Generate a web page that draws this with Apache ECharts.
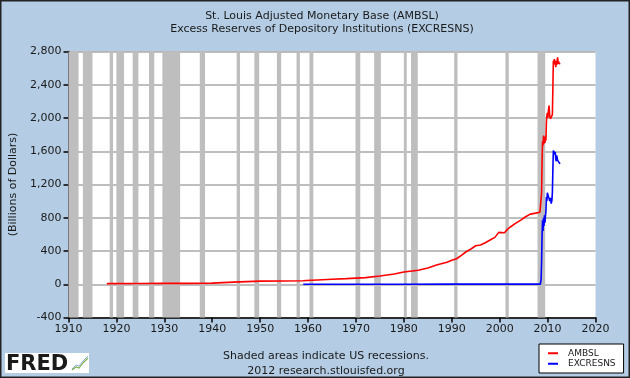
<!DOCTYPE html>
<html>
<head>
<meta charset="utf-8">
<script src="https://cdn.jsdelivr.net/npm/echarts@6/dist/echarts.min.js"></script>
<style>
html,body{margin:0;padding:0;background:#B4CDE4;}
#chart{width:630px;height:378px;}
</style>
</head>
<body>
<div id="chart"></div>
<script>
// Recession periods (decimal years)
const recessionStart = [1910.0,1913.0,1918.6,1920.0,1923.4,1926.8,1929.6,1937.4,1945.1,1948.8,1953.5,1957.6,1960.3,1969.9,1973.8,1980.0,1981.5,1990.5,2001.2,2007.9];
const recessionEnd   = [1912.1,1915.0,1919.3,1921.6,1924.6,1927.9,1933.3,1938.5,1945.8,1949.8,1954.4,1958.3,1961.1,1970.9,1975.2,1980.6,1982.9,1991.2,2001.9,2009.5];

// AMBSL (Billions of Dollars)
const ambslYears = [1918.0,1925.0,1930.0,1935.0,1940.0,1940.1,1944.4,1944.6,1950.0,1955.0,1959.0,1959.4,1959.6,1959.8,1962.0,1965.0,1968.0,1970.0,1972.0,1975.0,1978.0,1980.0,1983.0,1985.0,1987.0,1989.0,1990.0,1991.0,1992.0,1993.0,1994.0,1995.0,1996.0,1997.0,1998.0,1999.0,1999.8,1999.95,2000.2,2001.0,2001.6,2002.3,2003.3,2004.4,2005.4,2006.4,2007.5,2008.4,2008.65,2008.75,2008.85,2008.95,2009.05,2009.15,2009.25,2009.35,2009.45,2009.55,2009.65,2009.75,2009.85,2009.95,2010.05,2010.15,2010.3,2010.45,2010.6,2010.75,2010.9,2011.0,2011.1,2011.2,2011.3,2011.4,2011.5,2011.6,2011.7,2011.8,2011.9,2012.0,2012.1,2012.2,2012.3,2012.45,2012.6];
const ambslValues = [8,9,10,11,13,24,26,36,38,40,42,54,45,50,52,60,68,74,80,100,124,148,168,196,235,264,288,307,348,391,424,463,472,500,532,564,624,640,600,620,660,692,732,772,812,844,856,866,872,1100,1480,1720,1670,1790,1690,1760,1700,1780,1730,1950,2030,2060,2000,2080,2150,2020,1990,2010,1990,2040,2350,2690,2640,2710,2660,2690,2610,2670,2640,2700,2730,2650,2680,2650,2660];

// EXCRESNS (Billions of Dollars)
const excYears = [1959.0,1970.0,1980.0,1990.0,2001.65,2001.7,2001.75,2003.3,2003.35,2003.4,2008.5,2008.65,2008.75,2008.85,2008.95,2009.05,2009.15,2009.25,2009.35,2009.45,2009.55,2009.65,2009.75,2009.85,2009.95,2010.05,2010.15,2010.3,2010.45,2010.6,2010.75,2010.9,2011.0,2011.1,2011.2,2011.3,2011.4,2011.5,2011.6,2011.7,2011.8,2011.9,2012.0,2012.1,2012.25,2012.45,2012.6];
const excValues = [0.5,0.3,0.3,1,1,19,1,1,10,1,2,60,270,600,770,640,800,700,830,740,820,880,1050,1000,1100,1110,1060,1050,1000,1040,970,1010,1100,1370,1610,1570,1600,1560,1590,1510,1480,1550,1540,1490,1470,1460,1450];

const xTickLabels = ['1910','1920','1930','1940','1950','1960','1970','1980','1990','2000','2010','2020'];
const yTickLabels = ['-400','0','400','800','1,200','1,600','2,000','2,400','2,800'];

const FONT = 'DejaVu Sans';
const chart = echarts.init(document.getElementById('chart'), null, {renderer:'canvas'});

const recessionAreas = recessionStart.map((s,i)=>[{xAxis:s},{xAxis:recessionEnd[i]}]);

chart.setOption({
  backgroundColor:'#B4CDE4',
  animation:false,
  textStyle:{fontFamily:FONT},
  title:[
    {text:'St. Louis Adjusted Monetary Base (AMBSL)\nExcess Reserves of Depository Institutions (EXCRESNS)',
     left:317, top:4, textAlign:'center',
     textStyle:{fontFamily:FONT,fontSize:11,fontWeight:'normal',color:'#1a1a1a',lineHeight:13.5}},
    {text:'Shaded areas indicate US recessions.\n2012 research.stlouisfed.org',
     left:321, top:344, textAlign:'center',
     textStyle:{fontFamily:FONT,fontSize:11,fontWeight:'normal',color:'#1a1a1a',lineHeight:14.5}}
  ],
  legend:{
    orient:'vertical', left:539, top:344, height:30,
    backgroundColor:'#ffffff', borderColor:'#000', borderWidth:1,
    padding:[4,8,4,9], itemGap:0, itemWidth:10, itemHeight:2,
    icon:'rect',
    textStyle:{fontFamily:FONT,fontSize:9,color:'#1a1a1a',lineHeight:10.5,padding:[0,0,0,5]},
    data:['AMBSL','EXCRESNS']
  },
  grid:{left:68.5,right:34.5,top:51.5,bottom:60.5,containLabel:false,
        show:true, backgroundColor:'#ffffff', borderWidth:0},
  xAxis:{
    type:'value', min:1910, max:2020, interval:10,
    axisLine:{show:true,onZero:false,lineStyle:{color:'#000',width:1.5}},
    axisTick:{show:true,length:5,lineStyle:{color:'#000',width:1.5}},
    axisLabel:{fontFamily:FONT,fontSize:11,color:'#1a1a1a',margin:6,
      formatter:(v)=>xTickLabels[Math.round((v-1910)/10)]},
    splitLine:{show:false}
  },
  yAxis:{
    type:'value', min:-400, max:2800, interval:400,
    name:'(Billions of Dollars)', nameLocation:'middle', nameGap:48, nameRotate:90,
    nameTextStyle:{fontFamily:FONT,fontSize:11,color:'#1a1a1a',padding:[0,0,-32,0]},
    axisLine:{show:true,onZero:false,lineStyle:{color:'#000',width:1.5}},
    axisTick:{show:true,length:5,lineStyle:{color:'#000',width:1.5}},
    axisLabel:{fontFamily:FONT,fontSize:11,color:'#1a1a1a',margin:7,
      formatter:(v)=>yTickLabels[Math.round((v+400)/400)]},
    splitLine:{show:true,lineStyle:{color:'#A8A8A8',width:1.5}}
  },
  series:[
    {name:'AMBSL', type:'line', showSymbol:false, symbol:'none',
     color:'#FF0000', lineStyle:{color:'#FF0000',width:1.6}, z:3,
     data:ambslYears.map((y,i)=>[y,ambslValues[i]]),
     markArea:{silent:true, itemStyle:{color:'#BEBEBE',opacity:1}, z:1, data:recessionAreas}
    },
    {name:'EXCRESNS', type:'line', showSymbol:false, symbol:'none',
     color:'#0000FF', lineStyle:{color:'#0000FF',width:1.6}, z:3,
     data:excYears.map((y,i)=>[y,excValues[i]])}
  ],
  graphic:[
    {type:'rect', left:5, top:353, shape:{width:84,height:20}, style:{fill:'#ffffff'}, silent:true, z:10},
    {type:'text', left:6, top:354, style:{text:'FRED', fill:'#1a1a1a', font:'bold 21px "DejaVu Sans"'}, z:11},
    {type:'polyline', z:11, shape:{points:[[72,370],[76,367],[79,368],[83,363],[88,358]]}, style:{stroke:'#7fae4f',lineWidth:1.2,fill:null}},
    {type:'polyline', z:11, shape:{points:[[72,369],[76,365],[79,366],[83,361],[88,356]]}, style:{stroke:'#8fb0d8',lineWidth:1,fill:null}},
    {type:'rect', z:20, shape:{x:0.5,y:0.5,width:629,height:377}, style:{fill:null,stroke:'#222',lineWidth:2}, silent:true}
  ]
});
</script>
</body>
</html>
